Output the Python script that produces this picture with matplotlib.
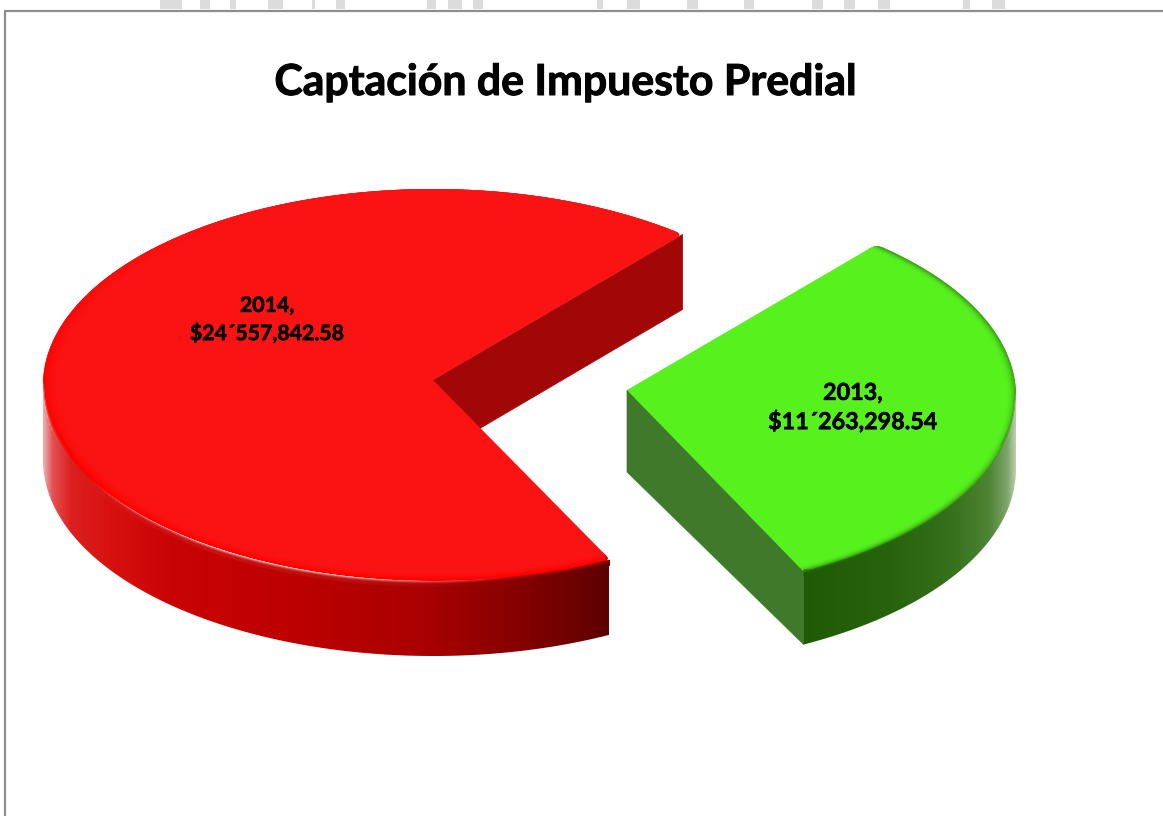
import numpy as np
import matplotlib
matplotlib.use("Agg")
import matplotlib.pyplot as plt
import matplotlib.patheffects as pe
from matplotlib.collections import LineCollection
from matplotlib.colors import LinearSegmentedColormap, to_rgb
from matplotlib.patches import Polygon, Rectangle

title = "Captación de Impuesto Predial"
years = ["2014", "2013"]
amounts = [24557842.58, 11263298.54]
labels = ["2014,\n$24´557,842.58", "2013,\n$11´263,298.54"]

# faint watermark showing above the frame (x from, x to)
mark_from = [160, 200, 230, 268, 312, 336, 427, 448, 473, 597, 627, 687, 744, 812, 844, 878, 963, 992]
mark_to = [182, 210, 236, 283, 315, 345, 436, 462, 483, 603, 640, 698, 754, 823, 855, 890, 970, 1005]

plt.rcParams['font.family'] = ['Lato', 'DejaVu Sans']

fig = plt.figure(figsize=(11.63, 8.16), dpi=100)
ax = fig.add_axes([0, 0, 1, 1])


def rim(theta, cx, cy, rx, ry, scale=1.0, dy=0.0):
    t = np.radians(theta)
    return np.column_stack([cx + scale * rx * np.cos(t), cy - scale * ry * np.sin(t) + dy])


def ramp(name, stops, x0, x1):
    pos = [(s[0] - x0) / (x1 - x0) for s in stops]
    return LinearSegmentedColormap.from_list(name, list(zip(pos, [s[1] for s in stops])))


def soft_corner(a, corner, b, n=8):
    t = np.linspace(0, 1, n)[:, None]
    return (1 - t) ** 2 * a + 2 * t * (1 - t) * corner + t ** 2 * b


def top_outline(apex, arc, cut=7.0):
    # wedge outline with its two outer corners slightly rounded
    apex = np.array(apex, dtype=float)
    steps = np.hypot(*np.diff(arc, axis=0).T).mean()
    n = int(cut / steps) + 1
    c0, c1 = arc[0], arc[-1]
    a0 = c0 + (apex - c0) / np.hypot(*(apex - c0)) * cut
    a1 = c1 + (apex - c1) / np.hypot(*(apex - c1)) * cut
    return np.vstack([[apex], soft_corner(a0, c0, arc[n]), arc[n:-n], soft_corner(arc[-n], c1, a1)])


def draw_slice(a0, a1, apex, cx, cy, rx, ry, depth, apex_depth, top, wall, stops, front, bevel, glow):
    x0, x1 = stops[0][0], stops[-1][0]
    cmap = ramp("side", stops, x0, x1)

    # flat cut face
    p = rim([a0], cx, cy, rx, ry)[0]
    face = np.array([apex, p, p + [0, depth], np.array(apex) + [0, apex_depth]], dtype=float)
    ax.add_patch(Polygon(face, closed=True, fc=wall, ec=wall, lw=0.5, zorder=2))

    # curved side, shaded across the picture
    th = np.linspace(front[0], front[1], 200)
    upper = rim(th, cx, cy, rx, ry)
    lower = upper + [0, depth]
    side = Polygon(np.vstack([upper, lower[::-1]]), closed=True, fc="none", ec="none", zorder=3)
    ax.add_patch(side)
    img = ax.imshow(np.linspace(0, 1, 512)[None, :], cmap=cmap, aspect="auto", zorder=3,
                    extent=(x0, x1, cy + ry + depth + 10, cy - 10), interpolation="bilinear")
    img.set_clip_path(side)

    # top of the slice
    th = np.linspace(a0, a1, 500)
    outline = top_outline(apex, rim(th, cx, cy, rx, ry))
    top_patch = Polygon(outline, closed=True, fc=top, ec="none", zorder=4)
    ax.add_patch(top_patch)

    # soft rings inside the outer edge
    tc = np.array(to_rgb(top))
    ec = np.array(to_rgb(bevel["ring_color"]))
    mid = 0.5 * (th[:-1] + th[1:])
    fade = np.interp(mid, bevel["fade"][0], bevel["fade"][1])
    for s in np.linspace(bevel["ring"], 1.0, 14):
        k = (s - bevel["ring"]) / (1.0 - bevel["ring"])
        pts = rim(th, cx, cy, rx, ry, scale=s)
        segs = np.stack([pts[:-1], pts[1:]], axis=1)
        cols = tc + (ec - tc) * (k ** bevel["power"] * fade)[:, None]
        lc = LineCollection(segs, colors=cols, lw=1.6, zorder=5, capstyle="butt")
        ax.add_collection(lc)
        lc.set_clip_path(top_patch)

    # rounded edge between top and curved side
    th = np.linspace(front[0], front[1], 300)
    for d in np.linspace(-bevel["up"], bevel["down"], 18):
        pts = rim(th, cx, cy, rx, ry, dy=d)
        segs = np.stack([pts[:-1], pts[1:]], axis=1)
        mx = segs[:, :, 0].mean(axis=1)
        w = np.array([cmap((v - x0) / (x1 - x0))[:3] for v in mx])
        k = (d + bevel["up"]) / (bevel["up"] + bevel["down"])
        k = k * k * (3 - 2 * k)
        cols = ec + (w - ec) * k
        g = np.interp(mx, glow[0], glow[1]) * np.exp(-((k - 0.5) / 0.3) ** 2)
        cols = cols + (1 - cols) * g[:, None]
        lc = LineCollection(segs, colors=cols, lw=1.5, zorder=6, capstyle="butt")
        ax.add_collection(lc)
        # keep the band on the slice, not on the white around it
        band = np.vstack([outline, lower[::-1]]) if d < 0 else np.vstack([upper, lower[::-1]])
        lc.set_clip_path(Polygon(band, closed=True, transform=ax.transData))


total = sum(amounts)
sweep = [v / total * 360 for v in amounts]
start = 50.2

red_stops = [(43, "#EBA9A9"), (52, "#E45050"), (70, "#DC2020"), (110, "#D81010"), (170, "#C90404"),
             (300, "#BC0000"), (430, "#A80000"), (520, "#860000"), (609, "#5E0000")]
green_stops = [(802, "#1F5A06"), (890, "#27620C"), (950, "#35701A"), (990, "#4F8436"), (1008, "#7FA66C"),
               (1016, "#BBD0AE")]

draw_slice(start, start + sweep[0], (433, 380), 433, 385, 390, 196, 75, 76,
           "#FB1212", "#A10707", red_stops, (180, start + sweep[0]),
           dict(ring=0.96, ring_color="#FF0000", power=2, fade=([120, 185], [0, 1]), up=5, down=5),
           ([90, 130, 220, 350, 520], [0, 0.5, 0.95, 0.85, 0]))

draw_slice(start - sweep[1], start, (627, 390), 627, 396, 389, 197, 73, 82,
           "#57F21E", "#3F7A2B", green_stops, (start - sweep[1], 0),
           dict(ring=0.97, ring_color="#3FA316", power=3, fade=([0, 1], [1, 1]), up=4, down=4),
           ([800, 1016], [0, 0]))

thick = [pe.withStroke(linewidth=0.45, foreground="black")]
ax.text(267, 320, labels[0], ha="center", va="center", fontsize=15.3, fontweight="bold",
        linespacing=1.42, zorder=8, path_effects=thick)
ax.text(853, 408, labels[1], ha="center", va="center", fontsize=16.8, fontweight="bold",
        linespacing=1.38, zorder=8, path_effects=thick)
ax.text(565, 82, title, ha="center", va="center", fontsize=30.8, fontweight="bold", zorder=8,
        path_effects=[pe.withStroke(linewidth=0.7, foreground="black")])

# frame of the pasted chart and the watermark cut off above it
for a, b in zip(mark_from, mark_to):
    ax.add_patch(Rectangle((a, 0), b - a, 9, fc="#DCDCDC", ec="none", zorder=1))
ax.plot([5, 5, 1163], [816, 10.5, 10.5], color="#8E8E8E", lw=1.6, zorder=7, solid_joinstyle="miter")

ax.set_xlim(0, 1163)
ax.set_ylim(816, 0)
ax.axis("off")

fig.savefig("out.png", dpi=100)
